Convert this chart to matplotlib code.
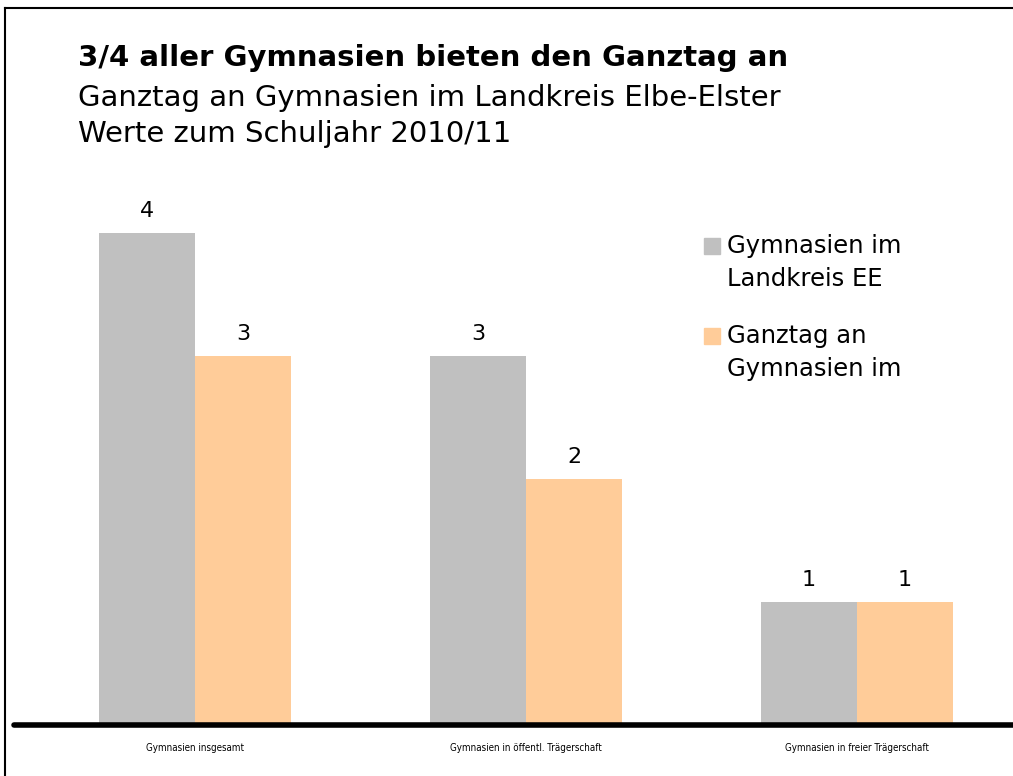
import matplotlib
matplotlib.use("Agg")
import matplotlib.pyplot as plt
from matplotlib.patches import Rectangle
import numpy as np

# data
categories = ["Gymnasien insgesamt", "Gymnasien in öffentl. Trägerschaft",
              "Gymnasien in freier Trägerschaft"]
gymnasien = [4, 3, 1]
ganztag = [3, 2, 1]
series_labels = ["Gymnasien im\nLandkreis EE", "Ganztag an\nGymnasien im"]

gray = "#c0c0c0"
orange = "#ffcc99"

W, H = 1013, 776
fig = plt.figure(figsize=(W / 100, H / 100), dpi=100)

# plot area in pixel terms: baseline at y=725, group spacing 331 px
ax_left, ax_right = 14, 1013
ax_bottom, ax_top = 725, 180
ax = fig.add_axes([ax_left / W, 1 - ax_bottom / H,
                   (ax_right - ax_left) / W, (ax_bottom - ax_top) / H])
ax.patch.set_alpha(0)

x = np.arange(len(categories))
bw = 96 / 331
ax.bar(x - bw / 2, gymnasien, width=bw, color=gray)
ax.bar(x + bw / 2, ganztag, width=bw, color=orange)

ax.set_xlim((ax_left - 195) / 331, (ax_right - 195) / 331)
ax.set_ylim(0, (ax_bottom - ax_top) / 123)

for i in range(len(categories)):
    ax.text(x[i] - bw / 2, gymnasien[i] + 0.1, str(gymnasien[i]),
            ha="center", va="bottom", fontsize=16)
    ax.text(x[i] + bw / 2, ganztag[i] + 0.1, str(ganztag[i]),
            ha="center", va="bottom", fontsize=16)

for s in ax.spines.values():
    s.set_visible(False)
ax.axhline(0, color="black", lw=4, solid_capstyle="round", clip_on=False)
ax.set_yticks([])
ax.set_xticks(x)
ax.set_xticklabels(categories, fontsize=7, fontstretch="condensed")
ax.tick_params(axis="x", length=0, pad=13)

# legend, drawn by hand so the squares sit at the first text line
for k, (lab, col) in enumerate(zip(series_labels, [gray, orange])):
    y0 = 246 + k * 90
    fig.add_artist(Rectangle((704 / W, 1 - (y0 + 8) / H), 16 / W, 16 / H,
                             color=col, transform=fig.transFigure))
    for j, line in enumerate(lab.split("\n")):
        fig.text(727 / W, 1 - (y0 + j * 33) / H, line, fontsize=17.5,
                 va="center", ha="left")

# titles
fig.text(78 / W, 1 - 58 / H, "3/4 aller Gymnasien bieten den Ganztag an",
         fontsize=21, fontweight="bold", va="center", ha="left")
fig.text(78 / W, 1 - 98 / H, "Ganztag an Gymnasien im Landkreis Elbe-Elster",
         fontsize=21, va="center", ha="left")
fig.text(78 / W, 1 - 134 / H, "Werte zum Schuljahr 2010/11",
         fontsize=21, va="center", ha="left")

# outer frame
fig.add_artist(plt.Line2D([5 / W, 5 / W], [0, 1 - 8 / H], color="black", lw=1.5,
                          transform=fig.transFigure))
fig.add_artist(plt.Line2D([5 / W, 1], [1 - 8 / H, 1 - 8 / H], color="black", lw=1.5,
                          transform=fig.transFigure))

fig.savefig("out.png", dpi=100, facecolor="white")
